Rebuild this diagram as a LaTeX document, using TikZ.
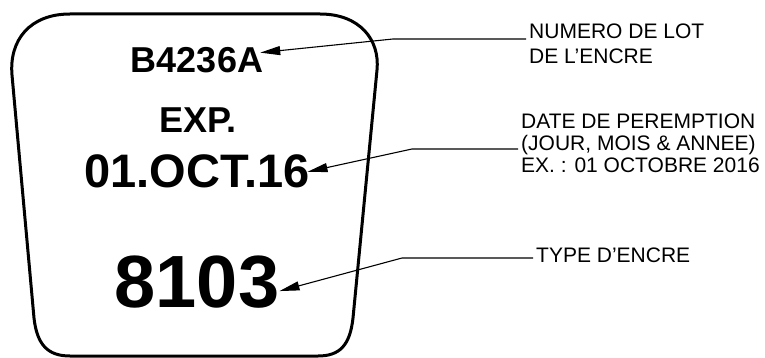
\documentclass[tikz,border=0pt]{standalone}
\usepackage{fontspec}
\setmainfont{Liberation Sans}
\usetikzlibrary{arrows.meta}
\begin{document}
\begin{tikzpicture}[x=1pt,y=-1pt,
  big/.style={inner sep=0,anchor=base,font=\bfseries\fontsize{#1}{#1}\selectfont},
  note/.style={inner xsep=3pt,inner ysep=0,anchor=north west,align=left,font=\fontsize{21}{#1}\selectfont},
  leader/.style={line width=1.1pt,-{Triangle[length=20pt,width=9pt]}}]
\useasboundingbox (0,0) rectangle (765,358);
% label outline
\draw[line width=3pt] (70,14) -- (320,14) .. controls (360,14) and (380,40) .. (377,70)
  -- (353,318) .. controls (350,345) and (340,356) .. (318,356) -- (70,356)
  .. controls (48,356) and (37,345) .. (34,318) -- (12,75)
  .. controls (9,40) and (30,14) .. (70,14) -- cycle;
% printed fields
\node[big=36] (lot) at (197,73) {B4236A};
\node[big=36] (exp) at (198,133) {EXP.};
\node[big=47] (date) at (197,188) {01.OCT.16};
\node[big=74] (type) at (197,307) {8103};
% notes
\node[note=25] (lotnote) at (526,24) {NUMERO DE LOT\\DE L’ENCRE};
\node[note=22] (datenote) at (518,114) {DATE DE PEREMPTION\\(JOUR, MOIS \& ANNEE)\\EX. : 01 OCTOBRE 2016};
\node[note=22] (typenote) at (533,248) {TYPE D’ENCRE};
\coordinate (lotknee) at (393,39);
\coordinate (dateknee) at (412,149);
\coordinate (typeknee) at (402,258);
\draw[leader] (lotnote.west |- lotknee) -- (lotknee) -- ([shift={(-3,-8)}]lot.east);
\draw[leader] (datenote.west |- dateknee) -- (dateknee) -- ([shift={(-2,0)}]date.east);
\draw[leader] (typenote.west |- typeknee) -- (typeknee) -- ([shift={(0,9.5)}]type.east);
\end{tikzpicture}
\end{document}
